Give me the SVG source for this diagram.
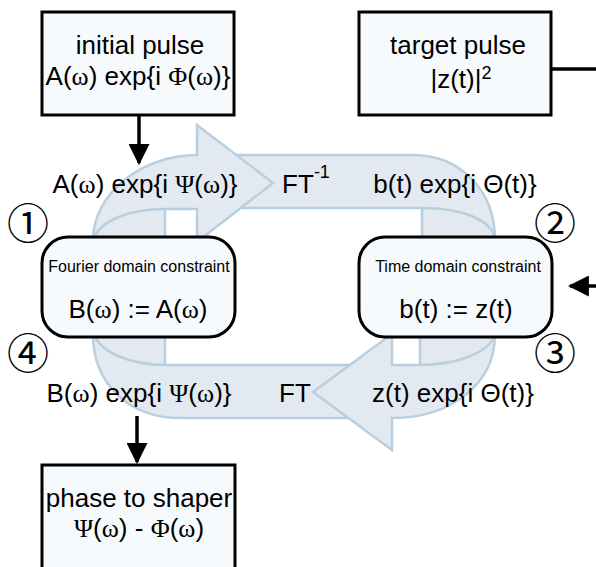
<svg xmlns="http://www.w3.org/2000/svg" width="596" height="567" viewBox="0 0 596 567">
<defs>
<style>
.rib{fill:#e2e9f1;stroke:#b9cfdf;stroke-width:2.5;stroke-linejoin:miter}
.ln{fill:none;stroke:#b9cfdf;stroke-width:2.5}
.box{fill:#f7fafd;stroke:#000;stroke-width:3}
.t{font-family:"Liberation Sans",Arial,sans-serif;fill:#000;text-anchor:middle;font-size:26px}
.s{font-size:18px}
.g{font-family:"Liberation Serif","Times New Roman",serif}
.c{font-family:"Noto Sans CJK JP","DejaVu Sans",sans-serif;fill:#000;text-anchor:middle;font-size:42px}
.wire{fill:none;stroke:#000;stroke-width:3.5}
</style>
<marker id="ah" viewBox="0 0 10 10" refX="9" refY="5" markerWidth="6" markerHeight="6" markerUnits="strokeWidth" orient="auto"><path d="M0,0 L10,5 L0,10 Z" fill="#000"/></marker>
</defs>
<rect width="596" height="567" fill="#fff"/>

<g id="cycle-arrows">
<!-- top ribbon: back band -->
<path class="rib" d="M230,155 L413,155 C460,155 495,190 495,240 L422,240 L422,208 L230,208 Z"/>
<path class="ln" d="M422,208 C462,208 493,220 495,240"/>
<!-- top ribbon: front arrow -->
<path class="rib" d="M93,240 C93,195 140,155 197,155 L197,125 L273,183 L197,242 L197,209 L165,209 L165,240 Z"/>
<path class="ln" d="M93,240 C100,220 130,209 165,209"/>
<!-- bottom ribbon: back band -->
<path class="rib" d="M93,334 C93,385 130,418 180,418 L360,418 L360,365 L165,365 L165,334 Z"/>
<path class="ln" d="M94,334 C100,352 130,365 165,365"/>
<!-- bottom ribbon: front arrow -->
<path class="rib" d="M495,334 C495,385 450,418 392,418 L392,450 L313,392 L392,334 L392,365 L420,365 L420,334 Z"/>
<path class="ln" d="M420,365 C458,365 490,352 495,334"/>
</g>

<g id="connectors">
<line class="wire" x1="139" y1="115" x2="139" y2="163" marker-end="url(#ah)"/>
<line class="wire" x1="137" y1="416" x2="137" y2="462" marker-end="url(#ah)"/>
<line class="wire" x1="551" y1="69" x2="596" y2="69"/>
<line class="wire" x1="596" y1="286" x2="570" y2="286" marker-end="url(#ah)"/>
</g>

<g id="initial-pulse">
<rect class="box" x="42" y="12" width="192" height="103"/>
<text class="t" x="140" y="54">initial pulse</text>
<text class="t" x="138" y="85">A(<tspan class="g">ω</tspan>) exp{i <tspan class="g">Φ</tspan>(<tspan class="g">ω</tspan>)}</text>
</g>

<g id="target-pulse">
<rect class="box" x="359" y="12" width="192" height="103"/>
<text class="t" x="458" y="54">target pulse</text>
<text class="t" x="461" y="88">|z(t)|<tspan dy="-9" class="s">2</tspan></text>
</g>

<g id="fourier-constraint">
<rect class="box" x="42" y="237" width="193" height="100" rx="26" ry="26" stroke-width="2.5"/>
<text class="t" x="139" y="272" style="font-size:16px">Fourier domain constraint</text>
<text class="t" x="138" y="318">B(<tspan class="g">ω</tspan>) := A(<tspan class="g">ω</tspan>)</text>
</g>

<g id="time-constraint">
<rect class="box" x="359" y="237" width="193" height="100" rx="26" ry="26" stroke-width="2.5"/>
<text class="t" x="458" y="272" style="font-size:16px">Time domain constraint</text>
<text class="t" x="456" y="318">b(t) := z(t)</text>
</g>

<g id="phase-to-shaper">
<rect class="box" x="42" y="465" width="193" height="110"/>
<text class="t" x="139" y="507">phase to shaper</text>
<text class="t" x="139" y="537"><tspan class="g">Ψ</tspan>(<tspan class="g">ω</tspan>) - <tspan class="g">Φ</tspan>(<tspan class="g">ω</tspan>)</text>
</g>

<g id="labels">
<text class="t" x="145" y="193">A(<tspan class="g">ω</tspan>) exp{i <tspan class="g">Ψ</tspan>(<tspan class="g">ω</tspan>)}</text>
<text class="t" x="306" y="193">FT<tspan dy="-15" class="s">-1</tspan></text>
<text class="t" x="455" y="193">b(t) exp{i Θ(t)}</text>
<text class="t" x="139" y="402">B(<tspan class="g">ω</tspan>) exp{i <tspan class="g">Ψ</tspan>(<tspan class="g">ω</tspan>)}</text>
<text class="t" x="295" y="402">FT</text>
<text class="t" x="453" y="402">z(t) exp{i Θ(t)}</text>
<text class="c" x="28" y="239">①</text>
<text class="c" x="555" y="239">②</text>
<text class="c" x="555" y="369">③</text>
<text class="c" x="28" y="369">④</text>
</g>
</svg>
